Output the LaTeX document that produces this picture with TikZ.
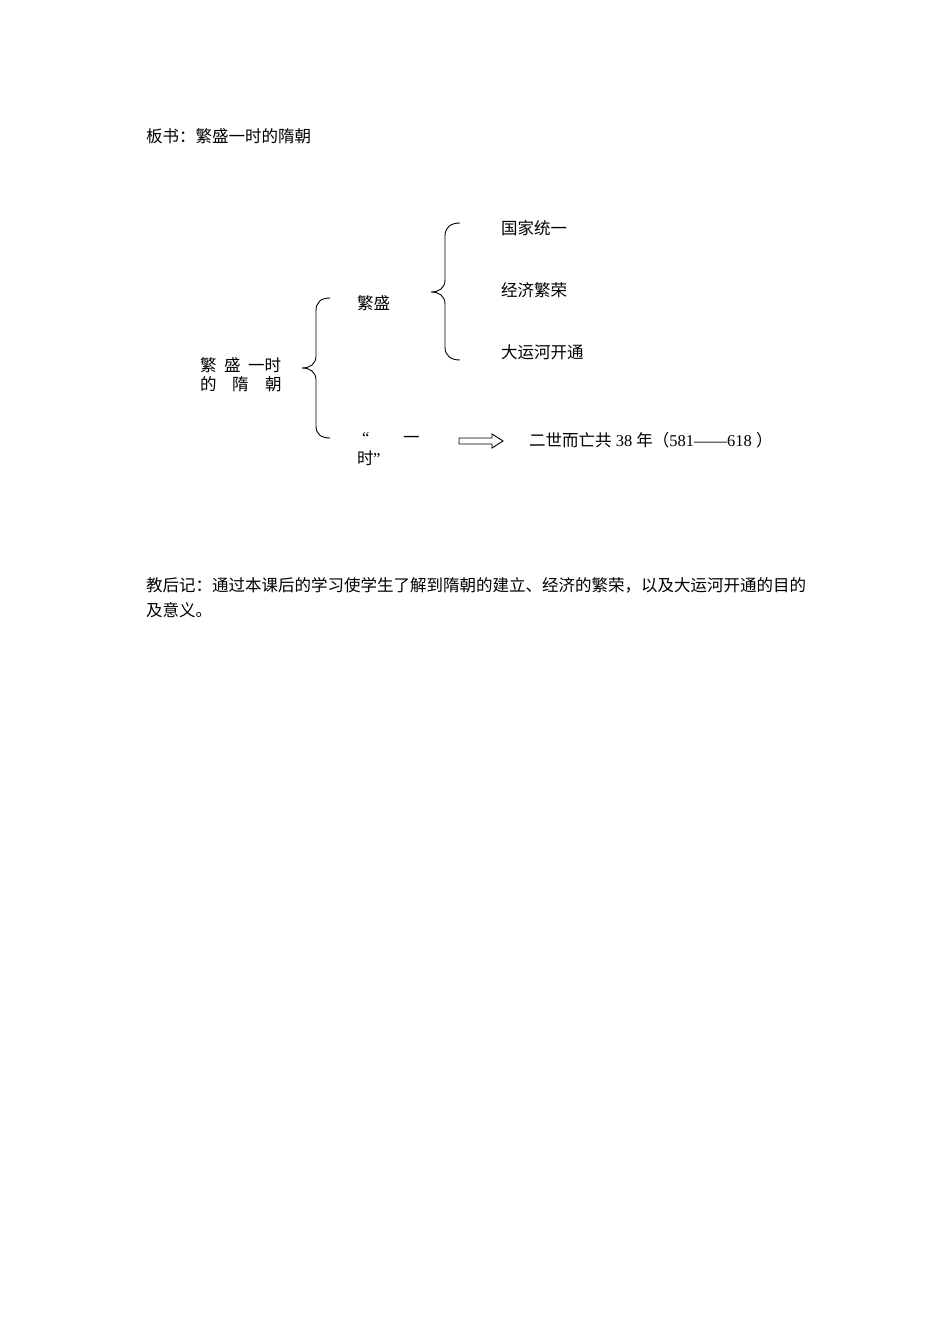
\documentclass[tikz,border=0pt]{standalone}
\usepackage{fontspec}
\setmainfont{Liberation Serif}
\newfontfamily\cjk{Noto Sans CJK SC}
\begin{document}
\begin{tikzpicture}[x=1pt,y=-1pt,
  txt/.style={anchor=base west,inner sep=0pt,font=\fontsize{16.5}{20}\selectfont\cjk},
  lat/.style={anchor=base west,inner sep=0pt,font=\fontsize{16.5}{20}\selectfont},
  brace/.style={draw,line width=0.9pt},
  hollow/.style={draw,line width=0.9pt,fill=white,line join=miter}]
\useasboundingbox[fill=white] (0,0) rectangle (950,1344);
% title
\node[txt] (title) at (146,142) {板书：繁盛一时的隋朝};
% left label
\node[txt] (l1a) at (200,371) {繁};
\node[txt] (l1b) at (224,371) {盛};
\node[txt] (l1c) at (248,371) {一时};
\node[txt] (l2a) at (200,390) {的};
\node[txt] (l2b) at (232,390) {隋};
\node[txt] (l2c) at (265,390) {朝};
% left brace
\draw[brace] (330,298) .. controls (321,298) and (316,302) .. (316,311) -- (316,356)
  .. controls (316,364) and (310,368) .. (302,368)
  .. controls (310,368) and (316,372) .. (316,380) -- (316,426)
  .. controls (316,434) and (321,438) .. (330,438);
% branches
\node[txt] (fansheng) at (357,309) {繁盛};
\node[lat] (q1) at (362,443) {“};
\node[txt] (yi) at (403,443) {一};
\node[txt] (shi) at (357,464) {时};
\node[lat] (q2) at (373,464) {”};
% right brace
\draw[brace] (460,223) .. controls (451,223) and (445,227) .. (445,236) -- (445,280)
  .. controls (445,288) and (439,292) .. (431,292)
  .. controls (439,292) and (445,296) .. (445,304) -- (445,347)
  .. controls (445,356) and (451,360) .. (460,360);
\node[txt] (guojia) at (501,234) {国家统一};
\node[txt] (jingji) at (501,296) {经济繁荣};
\node[txt] (yunhe) at (501,358) {大运河开通};
% arrow
\draw[hollow] (459,438) -- (492,438) -- (492,434) -- (503,441) -- (492,448) -- (492,444) -- (459,444) -- cycle;
\node[lat] (result) at (529,446) {{\cjk 二世而亡共} 38 {\cjk 年（}581——618 {\cjk ）}};
% notes
\node[txt] (note1) at (146,591) {教后记：通过本课后的学习使学生了解到隋朝的建立、经济的繁荣，以及大运河开通的目的};
\node[txt] (note2) at (146,616) {及意义。};
\end{tikzpicture}
\end{document}
